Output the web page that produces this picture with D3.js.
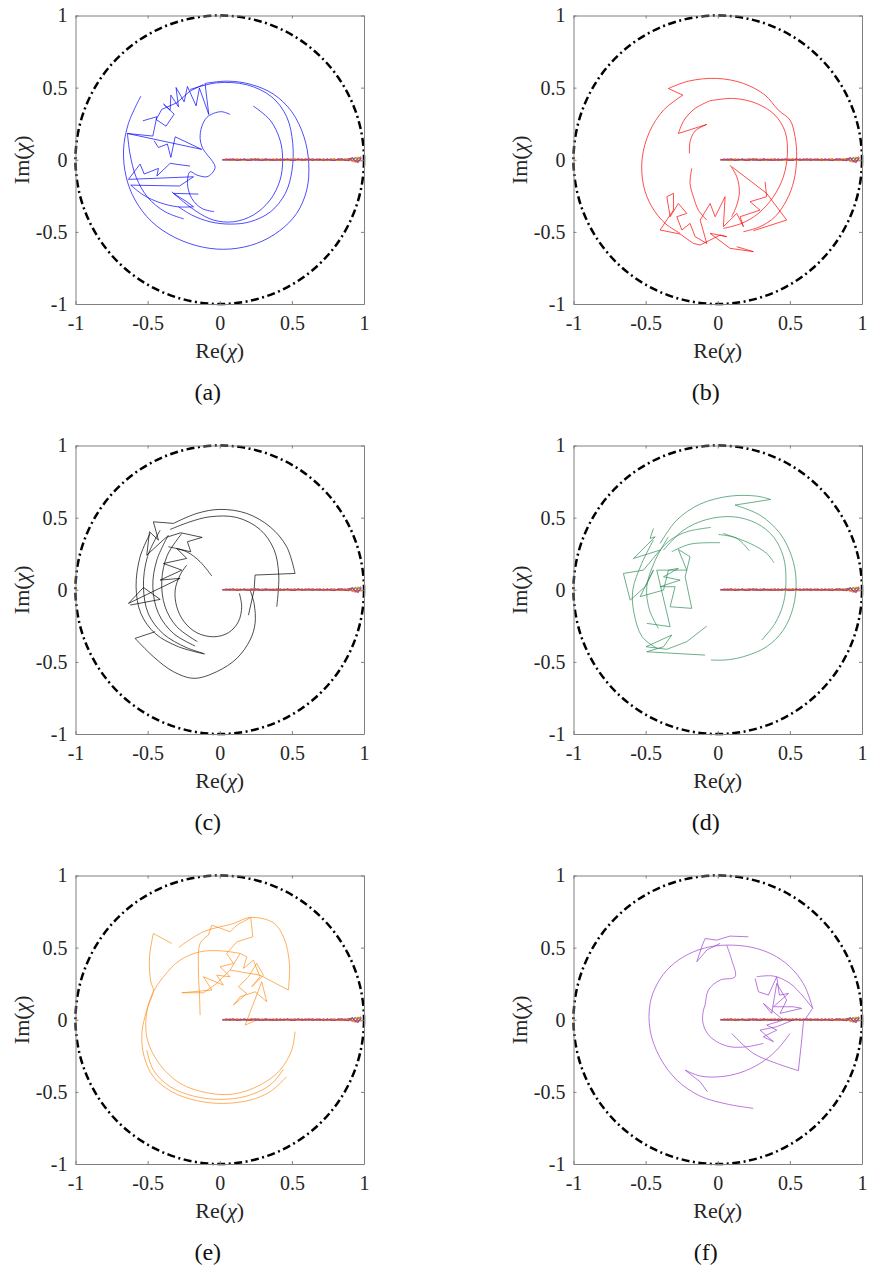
<!DOCTYPE html>
<html>
<head>
<meta charset="utf-8">
<script src="https://cdn.jsdelivr.net/npm/d3@7"></script>
<style>
body { margin: 0; background: #fff; }
</style>
</head>
<body>
<svg width="870" height="1270"></svg>
<script>
//////////////////////////
// data (Re, Im)
//////////////////////////
var ticks = [-1, -0.5, 0, 0.5, 1];
var tags = ["(a)", "(b)", "(c)", "(d)", "(e)", "(f)"];
var colors = ["#0000ff", "#ff0000", "#000000", "#2e8b57", "#ff8c1a", "#9b3fd0"];

// thin noisy traces along the real axis, same in every panel
var noiseRe = [0.02,0.045,0.07,0.095,0.12,0.145,0.17,0.195,0.22,0.245,0.27,0.295,0.32,0.345,0.37,0.395,0.42,0.445,0.47,0.495,
  0.52,0.545,0.57,0.595,0.62,0.645,0.67,0.695,0.72,0.745,0.77,0.795,0.82,0.845,0.87,0.895,0.92,0.94,0.96,0.98];
var noise1 = [0.000,0.004,-0.003,0.002,-0.004,0.003,0.000,-0.005,0.004,-0.002,0.005,-0.003,0.002,-0.006,0.003,0.001,-0.004,0.005,-0.002,0.003,
  -0.005,0.004,-0.001,0.006,-0.004,0.002,-0.003,0.005,-0.006,0.003,0.001,-0.005,0.006,-0.002,0.004,-0.007,0.009,-0.012,0.015,-0.010];
var noise2 = [-0.003,0.002,0.005,-0.004,0.001,-0.002,0.006,-0.003,0.000,0.004,-0.005,0.002,0.005,-0.001,-0.004,0.006,-0.002,0.001,0.004,-0.006,
  0.003,-0.002,0.005,-0.004,0.001,0.006,-0.005,0.000,0.004,-0.003,0.006,-0.004,0.002,0.005,-0.006,0.004,-0.010,0.014,-0.008,0.018];
var noise3 = [0.002,-0.004,0.001,0.005,-0.003,0.004,-0.005,0.002,0.006,-0.004,0.000,0.005,-0.006,0.003,0.004,-0.003,0.006,-0.005,0.001,0.005,
  -0.002,0.006,-0.004,0.002,0.005,-0.006,0.003,0.004,-0.002,0.006,-0.005,0.003,-0.004,0.007,-0.002,0.008,0.012,-0.006,-0.016,0.011];
var noise4 = [-0.001,0.003,-0.005,0.001,0.004,-0.006,0.002,0.005,-0.003,0.001,0.006,-0.004,-0.001,0.004,-0.005,0.003,0.000,-0.006,0.005,-0.001,
  0.004,-0.005,0.006,-0.003,0.002,-0.004,0.005,-0.006,0.003,0.001,-0.004,0.006,-0.005,0.002,0.006,-0.008,0.005,0.017,-0.013,0.007];
var noise5 = [0.001,-0.002,0.004,-0.006,0.003,0.005,-0.004,0.001,-0.006,0.005,-0.002,0.004,0.001,-0.005,0.006,-0.004,0.003,0.002,-0.006,0.004,
  0.005,-0.003,0.002,-0.005,0.006,-0.001,-0.004,0.006,-0.003,-0.005,0.004,0.002,-0.006,0.005,-0.004,0.006,-0.014,0.009,0.020,-0.015];
var noise6 = [-0.002,0.005,-0.001,-0.003,0.006,-0.002,0.004,-0.006,0.003,0.005,-0.004,-0.002,0.006,-0.003,0.001,0.005,-0.006,0.004,-0.001,-0.004,
  0.006,0.001,-0.005,0.004,-0.003,0.005,0.001,-0.004,0.006,-0.006,0.003,0.005,-0.002,-0.006,0.003,0.007,-0.006,-0.018,0.010,0.022];
var noise7 = [0.003,-0.001,0.002,0.006,-0.005,0.001,0.003,-0.002,-0.005,0.006,0.002,-0.006,0.004,0.002,-0.003,-0.005,0.004,-0.001,0.006,-0.003,
  -0.004,0.005,0.000,-0.002,0.006,-0.005,0.004,0.002,-0.005,0.004,-0.002,-0.006,0.005,0.003,-0.005,-0.004,0.016,-0.011,-0.020,0.013];
var noiseColors = ["#e41a1c", "#1f3fff", "#8e2fa0", "#4daf4a", "#f0a020", "#e8541a", "#c0307a"];

// (a) blue
var arcsA = [
  [[-0.547,0.441],[-0.633,0.252],[-0.667,0.067],[-0.649,-0.118],[-0.587,-0.279],[-0.471,-0.430],[-0.309,-0.540],[-0.113,-0.607],[0.072,-0.619],[0.256,-0.580],[0.413,-0.494],[0.533,-0.372],[0.603,-0.210],[0.617,-0.025],[0.584,0.159],[0.499,0.333],[0.372,0.455],[0.210,0.524],[0.048,0.545],[-0.102,0.529]],
  [[-0.206,0.487],[-0.021,0.533],[0.187,0.520],[0.360,0.436],[0.464,0.298],[0.506,0.113],[0.501,-0.072],[0.455,-0.233],[0.353,-0.360],[0.210,-0.430],[0.072,-0.446],[-0.067,-0.430],[-0.194,-0.383],[-0.286,-0.326]],
  [[0.233,0.372],[0.349,0.275],[0.418,0.136],[0.436,-0.002],[0.418,-0.141],[0.349,-0.279],[0.233,-0.383],[0.095,-0.430],[-0.044,-0.418],[-0.159,-0.360],[-0.252,-0.291],[-0.333,-0.222]],
  [[0.072,0.314],[0.014,0.333],[-0.044,0.321],[-0.090,0.293],[-0.125,0.229],[-0.136,0.148],[-0.118,0.079],[-0.079,0.025],[-0.048,-0.014],[-0.032,-0.053],[-0.055,-0.095],[-0.090,-0.118],[-0.159,-0.106],[-0.206,-0.083],[-0.224,-0.164],[-0.194,-0.268],[-0.125,-0.337],[-0.039,-0.360]],
  [[-0.617,-0.176],[-0.529,-0.245],[-0.413,-0.298],[-0.293,-0.326],[-0.182,-0.326]],
  [[-0.640,0.182],[-0.622,0.040],[-0.580,-0.120],[-0.500,-0.260],[-0.380,-0.360],[-0.250,-0.410]]
];
var jagsA = [
  [[-0.102,0.529],[-0.076,0.314],[-0.141,0.497],[-0.164,0.374],[-0.224,0.508],[-0.247,0.402],[-0.303,0.501],[-0.286,0.367],[-0.339,0.448],[-0.344,0.344],[-0.390,0.386],[-0.316,0.316],[-0.372,0.233],[-0.441,0.279],[-0.402,0.349],[-0.298,0.395],[-0.206,0.476],[-0.113,0.522]],
  [[-0.533,0.270],[-0.436,0.298],[-0.464,0.164],[-0.640,0.182],[-0.125,0.072],[-0.309,0.159],[-0.339,0.016],[-0.363,0.109],[-0.425,0.085],[-0.455,0.132]],
  [[-0.206,-0.044],[-0.344,-0.025],[-0.436,-0.113],[-0.425,-0.060],[-0.524,-0.099],[-0.552,-0.030],[-0.633,-0.136],[-0.182,-0.118],[-0.279,-0.182],[-0.617,-0.176]],
  [[-0.182,-0.326],[-0.229,-0.291],[-0.321,-0.233],[-0.148,-0.238]]
];

// (b) red
var arcsB = [
  [[-0.342,0.494],[-0.203,0.545],[-0.007,0.564],[0.178,0.529],[0.328,0.448],[0.420,0.344],[0.501,0.275],[0.536,0.159],[0.547,0.021],[0.529,-0.141],[0.478,-0.279],[0.397,-0.395],[0.293,-0.464],[0.178,-0.499]],
  [[-0.242,0.448],[-0.376,0.344],[-0.473,0.194],[-0.524,0.009],[-0.515,-0.176],[-0.457,-0.326],[-0.365,-0.441],[-0.261,-0.510]],
  [[-0.053,0.409],[0.109,0.425],[0.270,0.390],[0.397,0.309],[0.467,0.194],[0.483,0.044],[0.455,-0.118],[0.386,-0.256],[0.282,-0.372],[0.166,-0.441],[0.039,-0.476]],
  [[-0.053,0.409],[-0.157,0.356],[-0.233,0.275],[-0.273,0.182]],
  [[-0.076,0.245],[-0.157,0.199],[-0.192,0.125],[-0.196,0.044]],
  [[-0.180,-0.060],[-0.192,-0.164],[-0.169,-0.256],[-0.134,-0.349],[-0.076,-0.418]],
  [[0.085,-0.037],[0.132,-0.118],[0.150,-0.222],[0.132,-0.314],[0.097,-0.395]]
];
var jagsB = [
  [[-0.242,0.448],[-0.342,0.494]],
  [[-0.273,0.182],[-0.076,0.245]],
  [[0.097,-0.048],[0.339,-0.233],[0.478,-0.418],[0.247,-0.492]],
  [[0.328,-0.152],[0.339,-0.256],[0.224,-0.291],[0.293,-0.349],[0.155,-0.395],[0.178,-0.464],[0.132,-0.372],[0.039,-0.464],[0.051,-0.256],[-0.018,-0.395],[-0.053,-0.303],[-0.122,-0.418],[-0.076,-0.580],[-0.157,-0.533],[-0.192,-0.441],[-0.249,-0.487],[-0.284,-0.395],[-0.215,-0.372],[-0.273,-0.303],[-0.330,-0.395],[-0.353,-0.256],[-0.307,-0.233],[-0.307,-0.349],[-0.400,-0.487],[-0.261,-0.515],[-0.169,-0.580],[-0.122,-0.591],[0.016,-0.522],[0.062,-0.533],[-0.053,-0.510],[0.085,-0.614],[0.247,-0.637],[0.132,-0.603]]
];

// (c) black
var arcsC = [
  [[-0.321,0.460],[-0.159,0.529],[0.002,0.557],[0.187,0.529],[0.349,0.436],[0.464,0.298],[0.522,0.113]],
  [[-0.344,0.418],[-0.206,0.471],[-0.067,0.506],[0.118,0.501],[0.279,0.418],[0.376,0.279],[0.409,0.101],[0.395,-0.118]],
  [[-0.587,-0.337],[-0.460,-0.464],[-0.321,-0.568],[-0.178,-0.614],[-0.021,-0.568],[0.118,-0.476],[0.210,-0.349],[0.245,-0.233],[0.238,-0.095],[0.210,-0.002]],
  [[-0.229,0.171],[-0.275,0.102],[-0.309,-0.002],[-0.298,-0.118],[-0.247,-0.222],[-0.159,-0.298],[-0.044,-0.326],[0.060,-0.298],[0.129,-0.222],[0.152,-0.118],[0.136,-0.025]],
  [[-0.483,0.390],[-0.552,0.229],[-0.580,0.021],[-0.547,-0.164],[-0.448,-0.303],[-0.286,-0.395],[-0.102,-0.446]],
  [[-0.413,0.413],[-0.501,0.229],[-0.529,0.021],[-0.494,-0.169],[-0.390,-0.307],[-0.233,-0.400],[-0.113,-0.441]],
  [[-0.356,0.379],[-0.436,0.206],[-0.464,0.021],[-0.425,-0.164],[-0.321,-0.303],[-0.171,-0.390]],
  [[-0.263,0.390],[-0.363,0.240],[-0.402,0.062],[-0.379,-0.118],[-0.298,-0.256],[-0.155,-0.360]],
  [[-0.356,0.298],[-0.229,0.263],[-0.136,0.194],[-0.055,0.095]]
];
var jagsC = [
  [[-0.460,0.471],[-0.321,0.460]],
  [[0.522,0.113],[0.245,0.102],[0.238,-0.002],[0.199,-0.176]],
  [[-0.448,-0.291],[-0.587,-0.337]],
  [[-0.460,0.471],[-0.425,0.344],[-0.487,0.402],[-0.506,0.240],[-0.372,0.363],[-0.270,0.395],[-0.122,0.363],[-0.224,0.333],[-0.201,0.263],[-0.298,0.286],[-0.229,0.217],[-0.390,0.182],[-0.263,0.136],[-0.413,0.067],[-0.275,0.079],[-0.633,-0.095],[-0.529,0.016],[-0.413,-0.067],[-0.621,-0.106]]
];

// (d) green
var arcsD = [
  [[-0.400,0.321],[-0.284,0.483],[-0.122,0.594],[0.085,0.649],[0.270,0.649],[0.367,0.626]],
  [[0.120,0.587],[0.293,0.517],[0.432,0.390],[0.513,0.229],[0.543,0.067],[0.524,-0.118],[0.455,-0.279],[0.339,-0.395],[0.178,-0.464],[0.051,-0.487],[-0.048,-0.487]],
  [[-0.376,0.275],[-0.238,0.413],[-0.076,0.487],[0.109,0.506],[0.270,0.460],[0.386,0.367],[0.455,0.229],[0.473,0.067],[0.455,-0.095],[0.397,-0.233],[0.305,-0.349]],
  [[0.005,0.383],[0.132,0.356],[0.219,0.270]],
  [[0.039,0.390],[0.224,0.321],[0.339,0.252],[0.390,0.187]],
  [[-0.048,0.432],[-0.215,0.402],[-0.330,0.344],[-0.400,0.275]],
  [[-0.319,0.263],[-0.192,0.316],[0.016,0.326]],
  [[-0.446,0.344],[-0.527,0.182],[-0.589,-0.002],[-0.580,-0.164],[-0.524,-0.326],[-0.420,-0.407]],
  [[-0.342,0.367],[-0.434,0.203],[-0.492,0.021],[-0.473,-0.141],[-0.411,-0.268]]
];
var jagsD = [
  [[0.367,0.626],[0.120,0.587]],
  [[-0.076,-0.252],[-0.215,-0.360],[-0.353,-0.413],[-0.497,-0.395],[-0.319,-0.314],[-0.376,-0.395],[-0.492,-0.430],[-0.088,-0.453]],
  [[-0.446,0.425],[-0.469,0.356],[-0.434,0.367],[-0.584,0.217],[-0.400,0.275],[-0.515,0.136],[-0.654,0.113],[-0.607,-0.072],[-0.503,0.021],[-0.446,0.136],[-0.538,-0.048],[-0.376,-0.002],[-0.342,0.136],[-0.273,0.148],[-0.376,0.090],[-0.261,0.067],[-0.400,0.021],[-0.296,0.021],[-0.330,-0.118],[-0.180,-0.129],[-0.226,0.090],[-0.192,0.229],[-0.273,0.279],[-0.215,0.136],[-0.423,0.136],[-0.330,-0.256],[-0.492,-0.233]]
];

// (e) orange
var arcsE = [
  [[-0.460,0.598],[-0.487,0.436],[-0.478,0.263],[-0.460,0.206],[-0.506,0.067],[-0.540,-0.095],[-0.524,-0.256],[-0.460,-0.395],[-0.333,-0.499],[-0.159,-0.561],[0.025,-0.580],[0.210,-0.557],[0.349,-0.499],[0.464,-0.395]],
  [[-0.286,0.501],[-0.113,0.610],[0.095,0.667],[0.210,0.709],[0.372,0.672],[0.446,0.564],[0.483,0.390],[0.476,0.206]],
  [[0.522,-0.083],[0.499,-0.210],[0.418,-0.349],[0.279,-0.453],[0.095,-0.515],[-0.090,-0.506],[-0.275,-0.441],[-0.418,-0.307],[-0.501,-0.141],[-0.510,0.021],[-0.471,0.171],[-0.390,0.298],[-0.275,0.413],[-0.136,0.471],[0.002,0.478],[0.141,0.460]],
  [[0.441,-0.344],[0.349,-0.453],[0.187,-0.529],[0.002,-0.552],[-0.182,-0.529],[-0.344,-0.464],[-0.460,-0.349],[-0.506,-0.210]],
  [[-0.079,0.587],[-0.136,0.529],[-0.148,0.344],[-0.141,0.182],[-0.136,0.032]]
];
var jagsE = [
  [[-0.333,0.529],[-0.460,0.598]],
  [[0.072,0.344],[0.279,0.309],[0.476,0.206]],
  [[-0.079,0.587],[-0.055,0.656],[0.072,0.610],[0.118,0.656],[0.215,0.709],[0.229,0.575],[0.118,0.540],[0.048,0.460],[0.095,0.390],[0.002,0.367],[0.072,0.298],[-0.021,0.309],[0.025,0.240],[-0.113,0.298],[-0.055,0.206],[-0.263,0.187],[-0.113,0.187],[-0.021,0.252],[0.072,0.344],[0.141,0.460],[0.187,0.436],[0.164,0.356],[0.233,0.413],[0.279,0.298],[0.222,0.229],[0.303,0.309],[0.256,0.390],[0.199,0.298],[0.129,0.229],[0.187,0.182],[0.095,0.102],[0.141,0.159],[0.245,0.194],[0.326,0.125],[0.291,0.263],[0.176,-0.037],[0.256,-0.002]]
];

// (f) purple
var arcsF = [
  [[0.247,-0.614],[0.062,-0.584],[-0.122,-0.529],[-0.284,-0.418],[-0.404,-0.256],[-0.469,-0.072],[-0.469,0.113],[-0.418,0.252],[-0.330,0.367],[-0.203,0.455],[-0.053,0.506],[0.109,0.517],[0.270,0.494],[0.409,0.436],[0.524,0.344],[0.605,0.229],[0.658,0.079]],
  [[0.062,0.517],[0.097,0.413],[0.120,0.298],[0.016,0.275],[-0.065,0.206],[-0.088,0.102],[-0.099,0.067],[-0.104,-0.014],[-0.072,-0.095],[-0.007,-0.152],[0.085,-0.187],[0.201,-0.187],[0.316,-0.164]],
  [[-0.226,-0.349],[-0.122,-0.390],[0.016,-0.395],[0.155,-0.367],[0.293,-0.303],[0.409,-0.210],[0.501,-0.095]],
  [[0.270,0.298],[0.386,0.303],[0.501,0.252],[0.594,0.159],[0.658,0.079]],
  [[0.559,-0.353],[0.409,-0.303],[0.247,-0.233],[0.097,-0.095]]
];
var jagsF = [
  [[0.658,0.079],[0.594,-0.014],[0.582,-0.141],[0.559,-0.353]],
  [[0.212,0.575],[0.085,0.580],[-0.007,0.552],[-0.088,0.563],[-0.111,0.506],[-0.145,0.402],[-0.076,0.483],[0.016,0.529]],
  [[-0.226,-0.349],[-0.122,-0.430],[-0.072,-0.499]],
  [[0.259,0.286],[0.282,0.194],[0.351,0.171],[0.409,0.298],[0.427,0.171],[0.490,0.182],[0.386,0.090],[0.524,0.090],[0.582,0.079],[0.432,0.044],[0.478,0.136],[0.409,0.252],[0.374,0.044],[0.316,0.113],[0.455,-0.002],[0.339,-0.037],[0.409,-0.072],[0.316,-0.118],[0.386,-0.152],[0.293,-0.072],[0.409,-0.048],[0.524,-0.002]]
];

var allArcs = [arcsA, arcsB, arcsC, arcsD, arcsE, arcsF];
var allJags = [jagsA, jagsB, jagsC, jagsD, jagsE, jagsF];
var allNoise = [noise1, noise2, noise3, noise4, noise5, noise6, noise7];

//////////////////////////
// layout
//////////////////////////
var svg = d3.select("svg");
var size = 288.5;
var lefts = [75.5, 573.5];
var tops = [15.5, 445.5, 875.5];
var serif = "Liberation Serif";
var boxColor = "#808080";

tags.forEach(function(tag, i) {
  var left = lefts[i % 2], top = tops[Math.floor(i / 2)];
  var x = d3.scaleLinear().domain([-1, 1]).range([left, left + size]);
  var y = d3.scaleLinear().domain([-1, 1]).range([top + size, top]);
  var g = svg.append("g");

  var smooth = d3.line().x(function(d) { return x(d[0]); }).y(function(d) { return y(d[1]); })
    .curve(d3.curveCatmullRom.alpha(0.5));
  var straight = d3.line().x(function(d) { return x(d[0]); }).y(function(d) { return y(d[1]); });

  // trajectory
  g.selectAll("path.arc").data(allArcs[i]).enter().append("path")
    .attr("class", "arc")
    .attr("d", smooth)
    .attr("fill", "none")
    .attr("stroke", colors[i])
    .attr("stroke-width", 0.7);
  g.selectAll("path.jag").data(allJags[i]).enter().append("path")
    .attr("class", "jag")
    .attr("d", straight)
    .attr("fill", "none")
    .attr("stroke", colors[i])
    .attr("stroke-width", 0.7);

  // noisy traces on the real axis
  g.selectAll("path.noise").data(allNoise).enter().append("path")
    .attr("class", "noise")
    .attr("d", function(s) {
      return straight(noiseRe.map(function(r, k) { return [r, s[k]]; }));
    })
    .attr("fill", "none")
    .attr("stroke", function(s, k) { return noiseColors[k]; })
    .attr("stroke-width", 0.9);

  // unit circle, dash-dot
  g.append("circle")
    .attr("cx", x(0)).attr("cy", y(0))
    .attr("r", x(1) - x(0))
    .attr("fill", "none")
    .attr("stroke", "#000")
    .attr("stroke-width", 2.5)
    .attr("stroke-dasharray", "8,3.5,2,3.5");

  // axes, box style with inward ticks
  var fmt = function(d) { return String(d); };
  var bottom = g.append("g").attr("transform", "translate(0," + (top + size) + ")")
    .call(d3.axisBottom(x).tickValues(ticks).tickSizeInner(-3).tickSizeOuter(0).tickPadding(12).tickFormat(fmt));
  var leftAx = g.append("g").attr("transform", "translate(" + left + ",0)")
    .call(d3.axisLeft(y).tickValues(ticks).tickSizeInner(-3).tickSizeOuter(0).tickPadding(8).tickFormat(fmt));
  var topAx = g.append("g").attr("transform", "translate(0," + top + ")")
    .call(d3.axisTop(x).tickValues(ticks).tickSizeInner(-3).tickSizeOuter(0).tickFormat(""));
  var rightAx = g.append("g").attr("transform", "translate(" + (left + size) + ",0)")
    .call(d3.axisRight(y).tickValues(ticks).tickSizeInner(-3).tickSizeOuter(0).tickFormat(""));

  [bottom, leftAx, topAx, rightAx].forEach(function(ax) {
    ax.attr("font-family", serif).attr("font-size", 20);
    ax.select(".domain").attr("stroke", boxColor).attr("stroke-width", 1);
    ax.selectAll(".tick line").attr("stroke", boxColor);
    ax.selectAll(".tick text").attr("fill", "#262626");
  });

  // axis titles
  var re = g.append("text")
    .attr("x", x(0)).attr("y", top + size + 54)
    .attr("text-anchor", "middle")
    .attr("font-family", serif).attr("font-size", 22).attr("fill", "#262626");
  re.append("tspan").text("Re(");
  re.append("tspan").attr("font-style", "italic").text("χ");
  re.append("tspan").text(")");

  var im = g.append("text")
    .attr("transform", "translate(" + (left - 47) + "," + y(0) + ") rotate(-90)")
    .attr("text-anchor", "middle")
    .attr("font-family", serif).attr("font-size", 22).attr("fill", "#262626");
  im.append("tspan").text("Im(");
  im.append("tspan").attr("font-style", "italic").text("χ");
  im.append("tspan").text(")");

  g.append("text")
    .attr("x", x(0) - 12).attr("y", top + size + 96)
    .attr("text-anchor", "middle")
    .attr("font-family", serif).attr("font-size", 24).attr("fill", "#111")
    .text(tag);
});
</script>
</body>
</html>
